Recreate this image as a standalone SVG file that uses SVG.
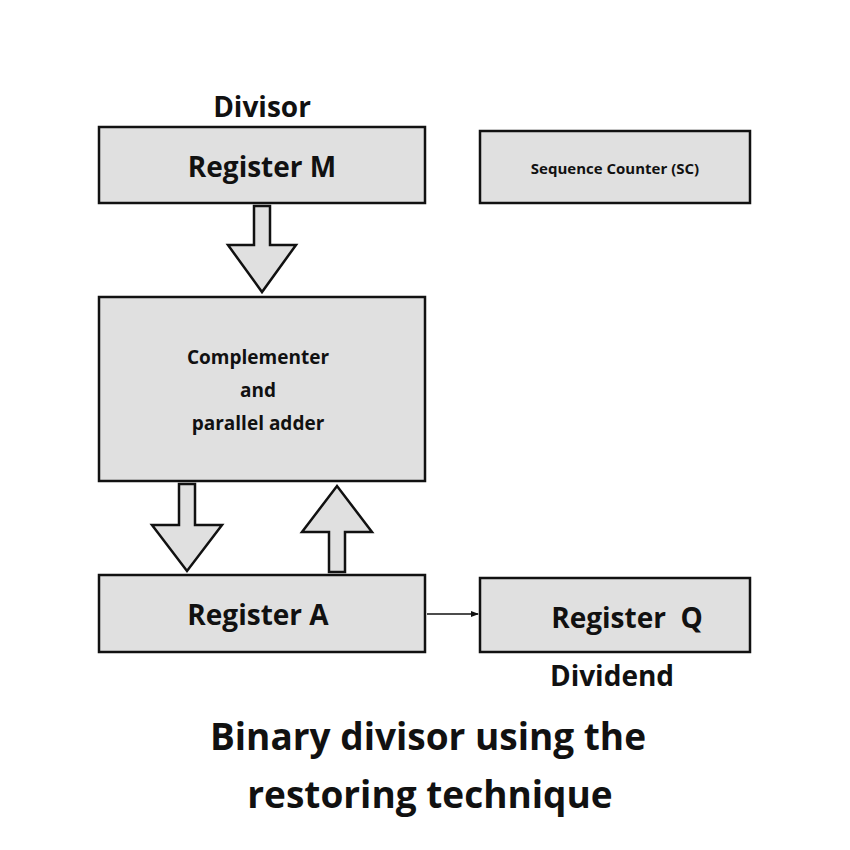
<svg xmlns="http://www.w3.org/2000/svg" width="850" height="850" viewBox="0 0 850 850">
<defs>
<style>
.box{fill:#e0e0e0;stroke:#111;stroke-width:2.5}
.arr{fill:#e0e0e0;stroke:#111;stroke-width:2.5;stroke-linejoin:miter}
text{font-family:"Open Sans","Liberation Sans",sans-serif;font-weight:bold;fill:#111;text-anchor:middle}
</style>
<marker id="ah" markerWidth="8" markerHeight="8" refX="7" refY="4" orient="auto" markerUnits="userSpaceOnUse"><path d="M0,1 L8,4 L0,7 Z" fill="#111"/></marker>
</defs>
<rect width="850" height="850" fill="#fff"/>
<g id="regM"><rect class="box" x="99" y="127" width="326" height="76"/><text x="262" y="177" font-size="28">Register M</text></g>
<text x="262" y="117" font-size="28">Divisor</text>
<g id="sc"><rect class="box" x="480" y="131" width="270" height="72"/><text x="615" y="174" font-size="15">Sequence Counter (SC)</text></g>
<g id="comp"><rect class="box" x="99" y="297" width="326" height="184"/>
<text x="258" y="364" font-size="19">Complementer</text><text x="258" y="397" font-size="19">and</text><text x="258" y="430" font-size="19">parallel adder</text></g>
<g id="regA"><rect class="box" x="99" y="575" width="326" height="77"/><text x="258" y="625" font-size="28">Register A</text></g>
<g id="regQ"><rect class="box" x="480" y="578" width="270" height="74"/><text x="627" y="628" font-size="28" xml:space="preserve">Register  Q</text></g>
<text x="612" y="686" font-size="28">Dividend</text>
<text x="428" y="750" font-size="37">Binary divisor using the</text>
<text x="430" y="808" font-size="37">restoring technique</text>
<g id="connectors">
<path class="arr" d="M254,206 H270 V245 H296 L262,292 L228,245 H254 Z"/>
<path class="arr" d="M179,484 H195 V525 H222 L187,571 L152,525 H179 Z"/>
<path class="arr" d="M329,572 H345 V532 H372 L337,486 L302,532 H329 Z"/>
<line x1="427" y1="614" x2="478" y2="614" stroke="#111" stroke-width="1.5" marker-end="url(#ah)"/>
</g>
</svg>
